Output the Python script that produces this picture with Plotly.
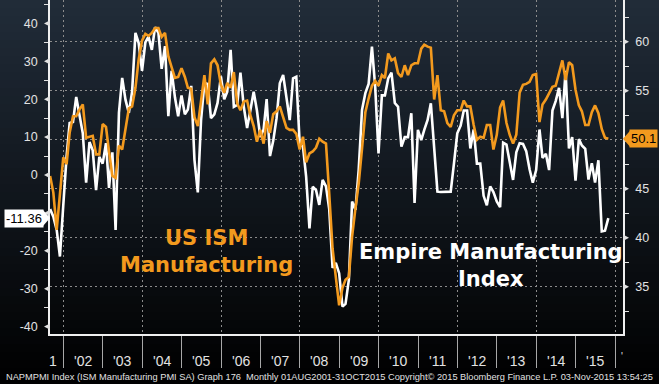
import pandas as pd
import plotly.graph_objects as go

# ---------------- data ----------------
dates = pd.date_range("2001-08-31", "2015-10-31", freq="ME")

ism_pmi = [
    46.3, 44.6, 40.8, 44.1, 48.2,
    47.5, 50.7, 52.4, 52.4, 53.1, 53.6, 50.2, 50.3, 50.4, 48.5, 48.5, 51.6,
    51.3, 48.8, 46.3, 46.1, 49.4, 49.0, 51.0, 53.2, 53.4, 55.3, 58.2, 60.1,
    60.8, 60.6, 60.9, 61.4, 61.4, 60.5, 60.9, 58.5, 57.4, 56.3, 56.4, 57.3,
    56.4, 55.3, 55.2, 52.3, 51.4, 53.8, 56.6, 53.6, 57.8, 58.2, 57.6, 55.6,
    54.8, 55.8, 55.3, 56.9, 53.7, 53.0, 53.9, 54.0, 52.5, 51.4, 49.8, 51.0,
    49.6, 51.9, 50.7, 52.6, 52.9, 53.4, 52.3, 51.2, 51.0, 51.0, 50.6, 49.0,
    50.3, 47.7, 48.6, 48.8, 49.2, 50.1, 49.8, 49.6, 44.5, 38.9, 36.0, 33.1,
    34.9, 35.7, 36.0, 40.1, 43.0, 45.5, 49.1, 52.8, 54.2, 55.5, 56.0, 55.5,
    56.6, 56.3, 58.8, 58.1, 58.3, 56.8, 56.4, 57.6, 56.6, 57.6, 57.8, 57.8,
    59.3, 59.7, 59.5, 59.4, 54.1, 56.6, 53.0, 52.9, 51.7, 51.3, 52.5, 53.0,
    53.0, 54.0, 53.4, 53.4, 51.5, 50.0, 50.3, 50.2, 51.5, 51.5, 49.0, 50.5,
    53.3, 54.0, 51.7, 50.5, 49.6, 50.5, 54.8, 55.6, 55.7, 55.9, 56.6, 56.7,
    51.8, 53.6, 54.1, 54.7, 55.4, 55.5, 56.9, 58.1, 56.1, 57.9, 57.6, 55.1,
    53.5, 52.9, 51.5, 51.5, 52.8, 53.5, 52.7, 51.1, 50.2, 50.1,
]

empire_index = [
    -9.0, -11.0, -14.5, -21.5, -8.0,
    5.0, 13.7, 14.0, 20.6, 16.0, 11.0, -2.0, 8.7, 6.5, -4.0, 4.8, 3.0,
    8.4, -3.4, 6.0, -14.5, 16.4, 25.6, 19.8, 16.4, 22.0, 37.5, 34.8, 27.5,
    35.0, 36.5, 33.0, 39.0, 37.5, 28.0, 34.0, 15.5, 27.5, 20.5, 15.5, 21.0,
    16.0, 17.3, 23.5, 4.0, -4.6, 14.5, 24.3, 24.0, 15.0, 16.0, 19.0, 26.0,
    20.0, 22.0, 33.0, 18.0, 18.5, 27.0, 18.0, 12.4, 17.0, 22.0, 17.0, 10.0,
    12.0, 20.0, 5.0, 9.0, 15.0, 24.2, 26.4, 20.0, 14.5, 25.5, 25.9, 8.4,
    7.4, -0.4, -14.1, -3.1, -4.0, -7.9, -1.3, -3.0, -9.0, -24.5, -23.2, -25.9,
    -34.7, -34.0, -27.7, -7.0, -9.2, 1.3, 17.2, 21.6, 24.0, 33.9, 23.3, 5.7,
    21.0, 21.0, 25.5, 27.0, 19.0, 18.0, 7.5, 10.0, 10.0, 16.3, -7.4, 11.9,
    9.2, 11.9, 14.5, 18.9, 8.0, -4.4, -4.5, -4.4, -4.5, -4.4, 3.0, 11.0,
    13.0, 17.0, 17.0, 7.0, 12.0, 3.0, 3.0, -5.5, -8.0, -3.0, -4.5, -7.0,
    -8.5, 8.5, 8.0, 3.0, -1.3, 6.0, 8.4, 8.2, 6.3, 1.5, -2.0, 1.3,
    12.0, 4.5, 5.6, 1.3, 17.0, 19.5, 23.0, 15.0, 27.5, 7.0, 10.0, -1.5,
    9.5, 7.8, 6.9, -1.2, 3.1, -2.0, 3.9, -14.9, -14.7, -11.36,
]

year_label_dates = [f"{y}-07-01" for y in range(2002, 2016)]
year_labels = ["'02", "'03", "'04", "'05", "'06", "'07", "'08", "'09",
               "'10", "'11", "'12", "'13", "'14", "'15"]

left_ticks = [-40, -30, -20, -10, 0, 10, 20, 30, 40]
left_ticklabels = ["-40", "-30", "-20", "", "0", "10", "20", "30", "40"]
right_ticks = [35, 40, 45, 50, 55, 60]
right_ticklabels = ["35", "40", "45", "", "55", "60"]

last_empire_label = "-11.36"
last_ism_label = "50.1"
footer_text = ("NAPMPMI Index (ISM Manufacturing PMI SA) Graph 176  Monthly 01AUG2001-31OCT2015 "
               "Copyright\u00a9 2015 Bloomberg Finance L.P. 03-Nov-2015 13:54:25")

# ---------------- styling constants ----------------
W, H = 659, 384
ML, MR, MT, MB = 50, 36, 0, 50
PW, PH = W - ML - MR, H - MT - MB
ORANGE = "#F39A1E"
TXT = "#E2E2E2"
GRID = "#8C8C8C"
Y1 = [-41.95, 46.17]
Y2 = [30.17, 64.26]
u1 = (Y1[1] - Y1[0]) / PH
u2 = (Y2[1] - Y2[0]) / PH


def px_x(p):
    return (p - ML) / PW


def px_y(p):
    return (H - MB - p) / PH


fig = go.Figure()

fig.add_trace(go.Scatter(x=dates, y=ism_pmi, yaxis="y2", mode="lines",
                         line=dict(color=ORANGE, width=2.6), name="US ISM Manufacturing"))
fig.add_trace(go.Scatter(x=dates, y=empire_index, yaxis="y", mode="lines",
                         line=dict(color="#FFFFFF", width=2.6), name="Empire Manufacturing Index"))

shapes = []
# background gradient (top dark blue -> black)
n = 48
top = (33, 44, 57)
for i in range(n):
    c = [int(round(t * (1 - (i + 0.5) / n))) for t in top]
    p0 = i * H / n
    p1 = (i + 1) * H / n + 0.8
    shapes.append(dict(type="rect", xref="paper", yref="paper",
                       x0=px_x(0), x1=px_x(W), y0=px_y(p1), y1=px_y(p0),
                       fillcolor=f"rgb({c[0]},{c[1]},{c[2]})", line=dict(width=0), layer="below"))

# tick triangles
tw = 6 / PW
for v in left_ticks:
    shapes.append(dict(type="path", xref="paper", yref="y",
                       path=f"M 0,{v + 3.2 * u1} L 0,{v - 3.2 * u1} L {-tw},{v} Z",
                       fillcolor=TXT, line=dict(width=0)))
for v in right_ticks:
    shapes.append(dict(type="path", xref="paper", yref="y2",
                       path=f"M 1,{v + 3.2 * u2} L 1,{v - 3.2 * u2} L {1 + tw},{v} Z",
                       fillcolor=TXT, line=dict(width=0)))

# last value pointers
pv = empire_index[-1]
shapes.append(dict(type="path", xref="paper", yref="y",
                   path=f"M {-7 / PW},{pv + 8 * u1} L {-7 / PW},{pv - 8 * u1} L 0,{pv} Z",
                   fillcolor="#FFFFFF", line=dict(width=0)))
pv2 = ism_pmi[-1]
shapes.append(dict(type="path", xref="paper", yref="y2",
                   path=f"M {1 + 7 / PW},{pv2 + 8 * u2} L {1 + 7 / PW},{pv2 - 8 * u2} L 1,{pv2} Z",
                   fillcolor=ORANGE, line=dict(width=0)))

LAB_FONT = dict(family="Liberation Sans, Arial", size=14, color=TXT)
annotations = []
for d, t in zip(year_label_dates, year_labels):
    annotations.append(dict(x=d, xref="x", y=0, yref="paper", xanchor="center", yanchor="middle",
                            yshift=-27, text=t, showarrow=False, font=LAB_FONT))
annotations.append(dict(x=px_x(53), xref="paper", y=0, yref="paper", xanchor="center", yanchor="middle",
                        yshift=-27, text="1", showarrow=False, font=LAB_FONT))
annotations.append(dict(x=px_x(622), xref="paper", y=0, yref="paper", xanchor="center", yanchor="middle",
                        yshift=-22, text="'", showarrow=False,
                        font=dict(family="Liberation Sans, Arial", size=10, color=TXT)))

annotations.append(dict(x=0, xref="paper", xanchor="right", xshift=-6, y=pv, yref="y", yanchor="middle",
                        text=last_empire_label, showarrow=False, bgcolor="#FFFFFF", borderpad=1,
                        font=dict(family="Liberation Sans, Arial", size=13, color="#000000")))
annotations.append(dict(x=1, xref="paper", xanchor="left", xshift=6, y=pv2, yref="y2", yanchor="middle",
                        text=last_ism_label, showarrow=False, bgcolor=ORANGE, borderpad=1,
                        font=dict(family="Liberation Sans, Arial", size=13, color="#000000")))

annotations.append(dict(x=px_x(206), xref="paper", y=px_y(252), yref="paper",
                        xanchor="center", yanchor="middle",
                        text="US ISM<br>Manufacturing", showarrow=False, align="center",
                        font=dict(family="DejaVu Sans", size=21, color=ORANGE, weight="bold")))
annotations.append(dict(x=px_x(491), xref="paper", y=px_y(265.5), yref="paper",
                        xanchor="center", yanchor="middle",
                        text="Empire Manufacturing<br>Index", showarrow=False, align="center",
                        font=dict(family="DejaVu Sans", size=21, color="#FFFFFF", weight="bold")))

annotations.append(dict(x=px_x(W / 2), xref="paper", y=px_y(377), yref="paper",
                        xanchor="center", yanchor="middle",
                        text=footer_text, showarrow=False,
                        font=dict(family="Liberation Sans, Arial", size=9.25, color=TXT)))

fig.update_layout(
    width=W, height=H,
    margin=dict(l=ML, r=MR, t=MT, b=MB, pad=0),
    paper_bgcolor="#000000", plot_bgcolor="rgba(0,0,0,0)",
    showlegend=False,
    shapes=shapes, annotations=annotations,
    xaxis=dict(type="date", range=["2001-08-30", "2016-03-15"],
               tickvals=[f"{y}-01-01" for y in range(2002, 2017, 2)],
               showticklabels=False, ticks="outside", ticklen=32, tickcolor="#A8A8A8", tickwidth=1,
               showgrid=True, gridcolor=GRID, griddash="2px,3px", gridwidth=1,
               minor=dict(tickvals=[f"{y}-01-01" for y in range(2003, 2016, 2)],
                          ticks="outside", ticklen=32, tickcolor="#A8A8A8", tickwidth=1, showgrid=False),
               showline=True, linecolor="#F0F0F0", linewidth=1.5, zeroline=False, fixedrange=True),
    yaxis=dict(range=Y1, tickvals=left_ticks, ticktext=left_ticklabels, ticks="",
               tickfont=dict(family="Liberation Sans, Arial", size=12.5, color=TXT),
               ticklabelstandoff=8,
               minor=dict(tickvals=[v + 5 for v in left_ticks], ticks="outside", ticklen=4,
                          tickcolor=TXT, tickwidth=1, showgrid=False),
               showgrid=False, zeroline=False, showline=True, linecolor="#F0F0F0", linewidth=1.5,
               fixedrange=True),
    yaxis2=dict(range=Y2, overlaying="y", side="right", tickvals=right_ticks, ticktext=right_ticklabels,
                ticks="", tickfont=dict(family="Liberation Sans, Arial", size=12.5, color=TXT),
                ticklabelstandoff=8,
                minor=dict(tickvals=[v + 2.5 for v in [30] + right_ticks], ticks="outside", ticklen=4,
                           tickcolor=TXT, tickwidth=1, showgrid=False),
                showgrid=True, gridcolor=GRID, griddash="2px,3px", gridwidth=1,
                zeroline=False, showline=True, linecolor="#F0F0F0", linewidth=1.5, fixedrange=True),
)

fig.write_html("out.html", config={"displayModeBar": False},
               post_script="document.body.style.margin='0';document.body.style.overflow='hidden';")
